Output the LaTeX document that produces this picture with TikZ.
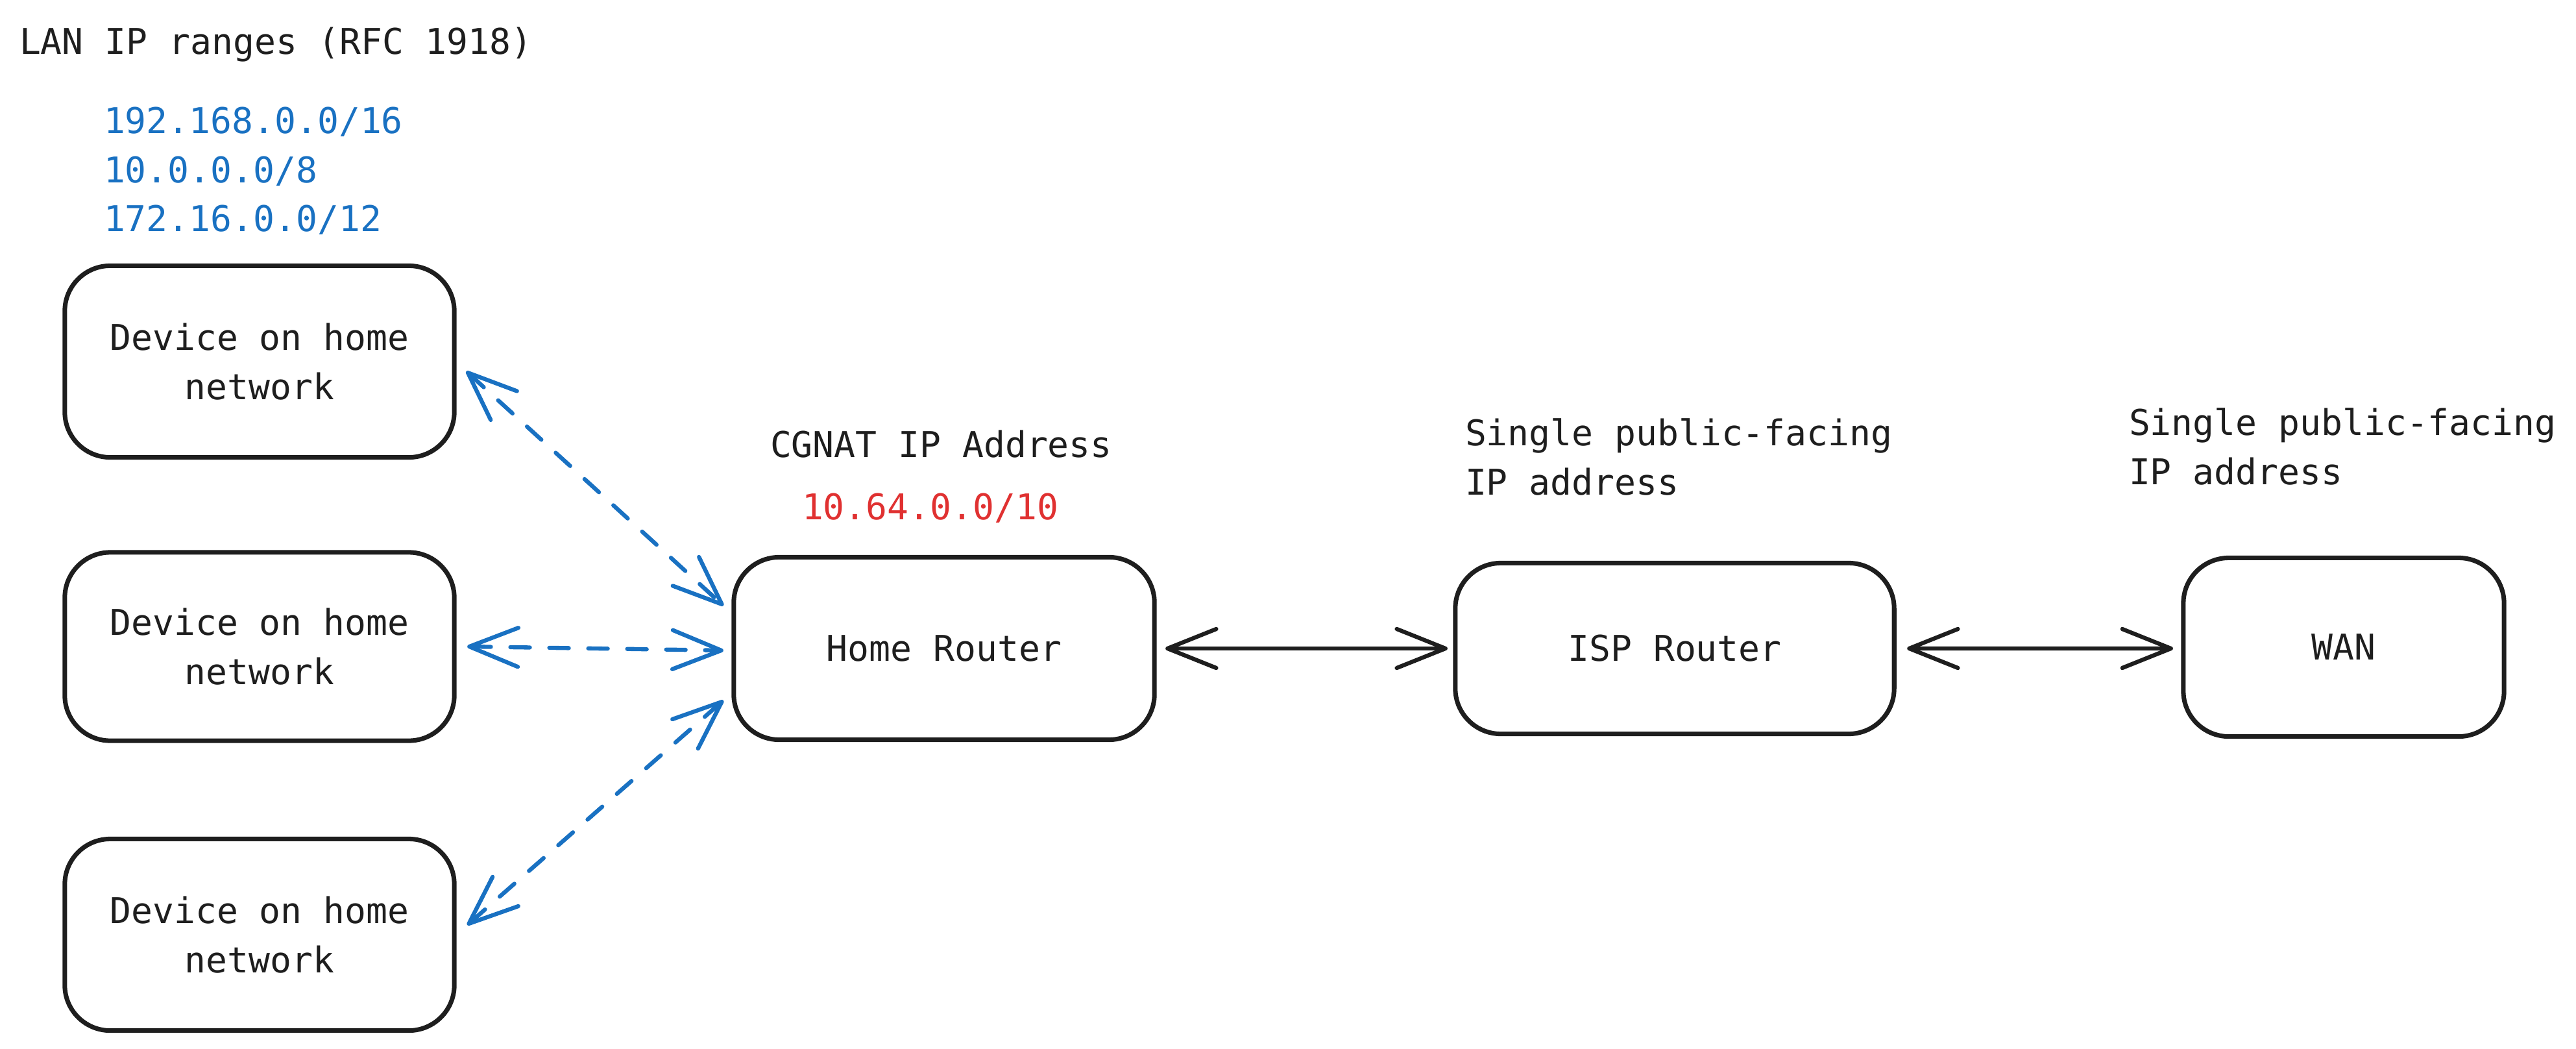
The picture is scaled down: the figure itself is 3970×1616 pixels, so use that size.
\documentclass[tikz,border=0pt]{standalone}
\usepackage{fontspec}
\setmonofont{DejaVu Sans Mono}
\usetikzlibrary{arrows.meta,calc}
\definecolor{ink}{HTML}{1E1E1E}
\definecolor{lanblue}{HTML}{1971C2}
\definecolor{cgred}{HTML}{E03131}
\begin{document}
\begin{tikzpicture}[x=0.01cm,y=-0.01cm,
  lbl/.style={font=\ttfamily\fontsize{15.55pt}{21.6pt}\selectfont, text=ink, inner sep=0pt, outer sep=0pt},
  box/.style={lbl, draw=ink, line width=2pt, rounded corners=0.7cm, align=center},
  txt/.style={lbl, anchor=base west, align=left},
  dbl/.style={{Straight Barb[round,length=0.75cm,width=0.6cm]}-{Straight Barb[round,length=0.75cm,width=0.6cm]}, line width=1.8pt, draw=ink, line cap=round},
  lanlink/.style={dbl, draw=lanblue, dash pattern=on 0.3cm off 0.3cm}
]
\useasboundingbox (0,0) rectangle (3970,1616);

% texts (base = baseline of the last line)
\node[txt] (title) at (30,84) {LAN IP ranges (RFC 1918)};
\node[txt, text=lanblue] (ranges) at (160,357) {192.168.0.0/16\\10.0.0.0/8\\172.16.0.0/12};
\node[txt] (cgnat) at (1187,705) {CGNAT IP Address};
\node[txt, text=cgred] (cgaddr) at (1236,800) {10.64.0.0/10};
\node[txt] (pub1) at (2258,762) {Single public-facing\\IP address};
\node[txt] (pub2) at (3281,746) {Single public-facing\\IP address};

% boxes
\node[box, minimum width=6.0cm, minimum height=2.95cm] (d1) at (400,557) {Device on home\\network};
\node[box, minimum width=6.0cm, minimum height=2.9cm] (d2) at (400,996) {Device on home\\network};
\node[box, minimum width=6.0cm, minimum height=2.95cm] (d3) at (400,1440) {Device on home\\network};
\node[box, minimum width=6.48cm, minimum height=2.81cm] (h) at (1455,999) {Home Router};
\node[box, minimum width=6.76cm, minimum height=2.63cm] (isp) at (2581,999) {ISP Router};
\node[box, minimum width=4.94cm, minimum height=2.75cm] (wan) at (3612,997) {WAN};

% connectors
\draw[lanlink] ([xshift=0.185cm,yshift=-0.15cm]d1.east) -- ([xshift=-0.16cm,yshift=0.66cm]h.west);
\draw[lanlink] ([xshift=0.2cm]d2.east) -- ([xshift=-0.16cm,yshift=-0.03cm]h.west);
\draw[lanlink] ([xshift=0.2cm,yshift=0.15cm]d3.east) -- ([xshift=-0.16cm,yshift=-0.8cm]h.west);
\draw[dbl] ([xshift=0.17cm]h.east) -- ([xshift=-0.12cm]isp.west);
\draw[dbl] ([xshift=0.2cm]isp.east) -- ([xshift=-0.16cm,yshift=-0.02cm]wan.west);
\end{tikzpicture}
\end{document}
